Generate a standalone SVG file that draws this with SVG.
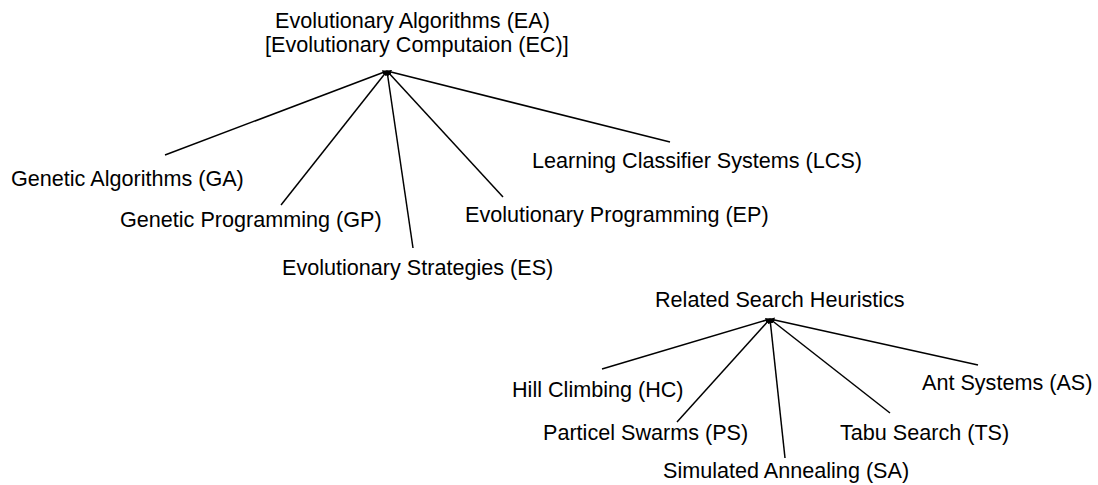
<svg xmlns="http://www.w3.org/2000/svg" width="1098" height="485" viewBox="0 0 1098 485">
  <style>
    text { font-family: "Liberation Sans", Arial, sans-serif; font-size: 21.6px; fill: #000; }
    .edge { stroke: #000; stroke-width: 1.5; fill: none; marker-end: url(#tip); }
  </style>
  <defs>
    <marker id="tip" viewBox="0 0 10 10" refX="9" refY="5" markerWidth="5" markerHeight="5" markerUnits="userSpaceOnUse" orient="auto">
      <path d="M0,0 L10,5 L0,10 z" fill="#000"/>
    </marker>
  </defs>
  <rect width="1098" height="485" fill="#fff"/>

  <g id="connectors">
    <!-- Evolutionary Algorithms branch -->
    <line class="edge" x1="165" y1="155" x2="387" y2="71"/>
    <line class="edge" x1="281" y1="205" x2="387" y2="71"/>
    <line class="edge" x1="413" y1="248" x2="387" y2="71"/>
    <line class="edge" x1="503" y1="197" x2="387" y2="71"/>
    <line class="edge" x1="670" y1="142" x2="387" y2="71"/>
    <!-- Related Search Heuristics branch -->
    <line class="edge" x1="602" y1="369" x2="770" y2="319"/>
    <line class="edge" x1="677" y1="422" x2="770" y2="319"/>
    <line class="edge" x1="785" y1="458" x2="770" y2="319"/>
    <line class="edge" x1="890" y1="413" x2="770" y2="319"/>
    <line class="edge" x1="978" y1="365" x2="770" y2="319"/>
  </g>

  <g id="ea">
    <text x="275" y="28">Evolutionary Algorithms (EA)</text>
    <text x="265" y="52">[Evolutionary Computaion (EC)]</text>
  </g>
  <g id="ga"><text x="11" y="186">Genetic Algorithms (GA)</text></g>
  <g id="gp"><text x="120" y="227">Genetic Programming (GP)</text></g>
  <g id="es"><text x="282" y="275">Evolutionary Strategies (ES)</text></g>
  <g id="ep"><text x="465" y="222">Evolutionary Programming (EP)</text></g>
  <g id="lcs"><text x="532" y="168">Learning Classifier Systems (LCS)</text></g>

  <g id="rsh"><text x="655" y="307">Related Search Heuristics</text></g>
  <g id="hc"><text x="512" y="397">Hill Climbing (HC)</text></g>
  <g id="ps"><text x="543" y="440">Particel Swarms (PS)</text></g>
  <g id="sa"><text x="663" y="478">Simulated Annealing (SA)</text></g>
  <g id="ts"><text x="840" y="440">Tabu Search (TS)</text></g>
  <g id="as"><text x="922" y="390">Ant Systems (AS)</text></g>
</svg>
